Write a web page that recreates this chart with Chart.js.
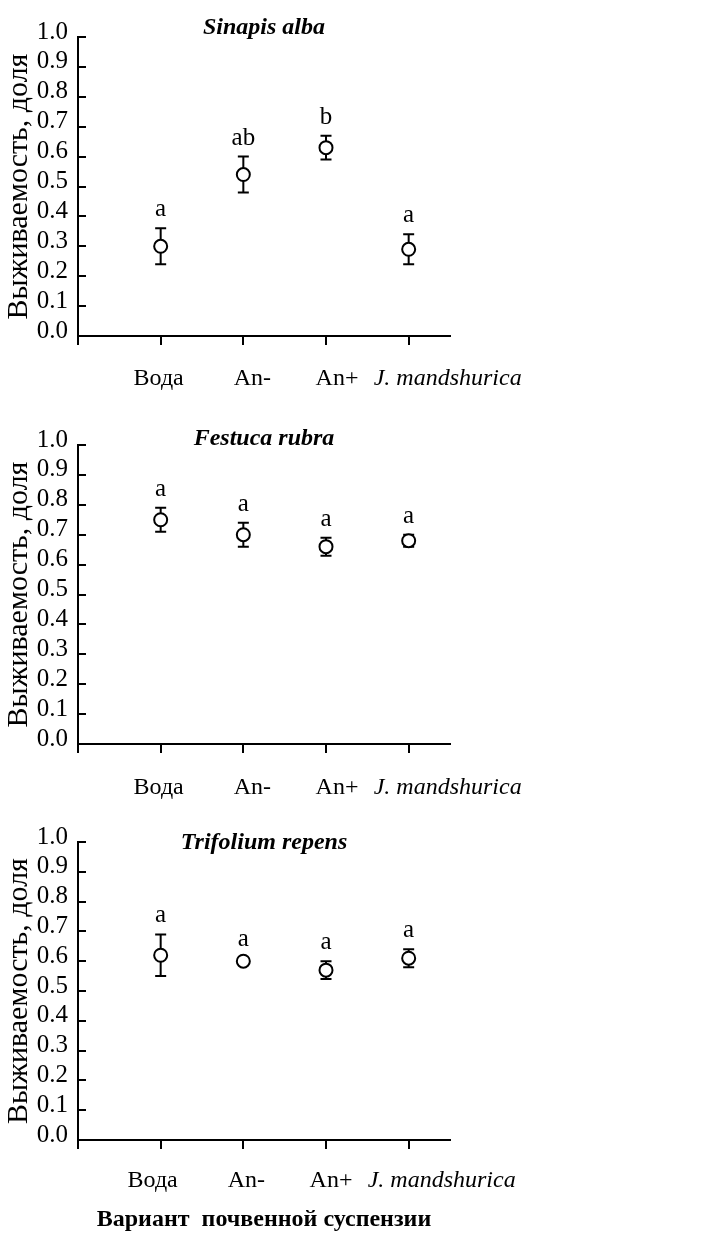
<!DOCTYPE html>
<html>
<head>
<meta charset="utf-8">
<script src="https://cdn.jsdelivr.net/npm/chart.js@4/dist/chart.umd.min.js"></script>
<style>
  html, body { margin: 0; padding: 0; background: #fff; }
  body { width: 712px; height: 1236px; position: relative; overflow: hidden; }
  canvas { position: absolute; left: 0; }
</style>
</head>
<body>
<canvas id="c1" width="712" height="400" style="top:0px"></canvas>
<canvas id="c2" width="712" height="398" style="top:410px"></canvas>
<canvas id="c3" width="712" height="421" style="top:815px"></canvas>
<script>
// Soil-suspension variants on the x axis
const categories = ['Вода', 'An-', 'An+', 'J. mandshurica'];
const xTickValues = [0, 1, 2, 3, 4];
const yTickValues = [0, 0.1, 0.2, 0.3, 0.4, 0.5, 0.6, 0.7, 0.8, 0.9, 1.0];

// Survival (share) per species: mean, error half-width, significance letters
const sinapisMean = [0.30, 0.54, 0.63, 0.29];
const sinapisErr = [0.06, 0.06, 0.04, 0.05];
const sinapisLetters = ['a', 'ab', 'b', 'a'];

const festucaMean = [0.75, 0.70, 0.66, 0.68];
const festucaErr = [0.04, 0.04, 0.03, 0.02];
const festucaLetters = ['a', 'a', 'a', 'a'];

const trifoliumMean = [0.62, 0.60, 0.57, 0.61];
const trifoliumErr = [0.07, 0.01, 0.03, 0.03];
const trifoliumLetters = ['a', 'a', 'a', 'a'];

const SERIF = '"Liberation Serif", "Times New Roman", serif';

// Error bars under the markers
const errorBars = {
  id: 'errorBars',
  beforeDatasetsDraw(chart) {
    const { ctx, scales: { x, y } } = chart;
    const ds = chart.data.datasets[0];
    ctx.save();
    ctx.strokeStyle = '#000';
    ctx.lineWidth = 2;
    ds.data.forEach((p, i) => {
      const e = ds.errors[i];
      const px = x.getPixelForValue(p.x);
      const top = y.getPixelForValue(p.y + e);
      const bot = y.getPixelForValue(p.y - e);
      ctx.beginPath();
      ctx.moveTo(px, top); ctx.lineTo(px, bot);
      ctx.moveTo(px - 5.5, top); ctx.lineTo(px + 5.5, top);
      ctx.moveTo(px - 5.5, bot); ctx.lineTo(px + 5.5, bot);
      ctx.stroke();
    });
    ctx.restore();
  }
};

// Significance letters above each error bar
const groupLetters = {
  id: 'groupLetters',
  afterDatasetsDraw(chart) {
    const { ctx, scales: { x, y } } = chart;
    const ds = chart.data.datasets[0];
    ctx.save();
    ctx.fillStyle = '#000';
    ctx.font = '25px ' + SERIF;
    ctx.textAlign = 'center';
    ctx.textBaseline = 'alphabetic';
    ds.data.forEach((p, i) => {
      const px = x.getPixelForValue(p.x);
      const top = y.getPixelForValue(p.y + ds.errors[i]);
      ctx.fillText(ds.letters[i], px, top - 12);
    });
    ctx.restore();
  }
};

// Inward tick marks on the y axis
const innerYTicks = {
  id: 'innerYTicks',
  afterDraw(chart) {
    const { ctx, scales: { y } } = chart;
    const left = chart.chartArea.left;
    ctx.save();
    ctx.strokeStyle = '#000';
    ctx.lineWidth = 2;
    y.ticks.forEach(t => {
      const py = Math.round(y.getPixelForValue(t.value));
      ctx.beginPath();
      ctx.moveTo(left, py); ctx.lineTo(left + 8, py);
      ctx.stroke();
    });
    ctx.restore();
  }
};

// Category names under the x axis ticks
const categoryLabels = {
  id: 'categoryLabels',
  afterDraw(chart, args, opts) {
    const { ctx, chartArea, scales: { x } } = chart;
    ctx.save();
    ctx.fillStyle = '#000';
    ctx.textAlign = 'center';
    ctx.textBaseline = 'alphabetic';
    categories.forEach((name, i) => {
      const italic = i === categories.length - 1;
      ctx.font = (italic ? 'italic ' : '') + '24px ' + SERIF;
      const px = x.getPixelForValue(i + 1) + opts.nudge[i] + opts.shift;
      ctx.fillText(name, px, chartArea.bottom + opts.baseline);
    });
    ctx.restore();
  }
};

// Species name inside the top of the plot
const panelTitle = {
  id: 'panelTitle',
  afterDraw(chart, args, opts) {
    const { ctx, chartArea } = chart;
    ctx.save();
    ctx.fillStyle = '#000';
    ctx.font = 'italic bold 24px ' + SERIF;
    ctx.textAlign = 'center';
    ctx.textBaseline = 'middle';
    ctx.fillText(opts.text, (chartArea.left + chartArea.right) / 2, chartArea.top + opts.dy);
    ctx.restore();
  }
};

function makePanel(id, species, means, errs, letters, layout) {
  const canvas = document.getElementById(id);
  return new Chart(canvas, {
    type: 'scatter',
    data: {
      datasets: [{
        data: means.map((m, i) => ({ x: i + 1, y: m })),
        errors: errs,
        letters: letters,
        pointStyle: 'circle',
        pointRadius: 6.5,
        pointHoverRadius: 6.5,
        pointBackgroundColor: '#fff',
        pointBorderColor: '#000',
        pointBorderWidth: 2,
        showLine: false
      }]
    },
    options: {
      responsive: false,
      animation: false,
      devicePixelRatio: 1,
      layout: { padding: { top: layout.plotTop, right: 262, bottom: 0, left: 0 } },
      plugins: {
        legend: { display: false },
        tooltip: { enabled: false },
        panelTitle: { text: species, dy: layout.titleDy },
        categoryLabels: { nudge: [-2, 9, 11, 39], shift: layout.labelShift, baseline: layout.labelBaseline }
      },
      scales: {
        x: {
          type: 'linear',
          min: 0,
          max: 4.5,
          afterBuildTicks: s => { s.ticks = xTickValues.map(v => ({ value: v })); },
          afterFit: s => { s.height = layout.xHeight; },
          grid: { display: true, drawOnChartArea: false, drawTicks: true, tickLength: 9, color: '#000', lineWidth: 2 },
          border: { display: true, color: '#000', width: 2 },
          ticks: { display: false, autoSkip: false, maxRotation: 0 },
          title: {
            display: layout.showXTitle,
            text: 'Вариант  почвенной суспензии',
            color: '#000',
            font: { family: SERIF, size: 24, weight: 'bold' },
            padding: { top: 0, bottom: 2 }
          }
        },
        y: {
          min: 0,
          max: 1,
          afterBuildTicks: s => { s.ticks = yTickValues.map(v => ({ value: v })); },
          afterFit: s => { s.width = 78; },
          grid: { display: false, drawTicks: false },
          border: { display: true, color: '#000', width: 2 },
          ticks: {
            color: '#000',
            padding: 10,
            autoSkip: false,
            labelOffset: -5,
            font: { family: SERIF, size: 25 },
            callback: v => Number(v).toFixed(1)
          },
          title: {
            display: true,
            text: 'Выживаемость, доля',
            color: '#000',
            font: { family: SERIF, size: 30 },
            padding: { top: 1, bottom: 0 }
          }
        }
      }
    },
    plugins: [errorBars, groupLetters, innerYTicks, categoryLabels, panelTitle]
  });
}

makePanel('c1', 'Sinapis alba', sinapisMean, sinapisErr, sinapisLetters,
  { plotTop: 37, xHeight: 64, titleDy: -9, labelShift: 0, labelBaseline: 49, showXTitle: false });
makePanel('c2', 'Festuca rubra', festucaMean, festucaErr, festucaLetters,
  { plotTop: 35, xHeight: 64, titleDy: -6, labelShift: 0, labelBaseline: 50, showXTitle: false });
makePanel('c3', 'Trifolium repens', trifoliumMean, trifoliumErr, trifoliumLetters,
  { plotTop: 27, xHeight: 96, titleDy: 1, labelShift: -6, labelBaseline: 47, showXTitle: true });
</script>
</body>
</html>
